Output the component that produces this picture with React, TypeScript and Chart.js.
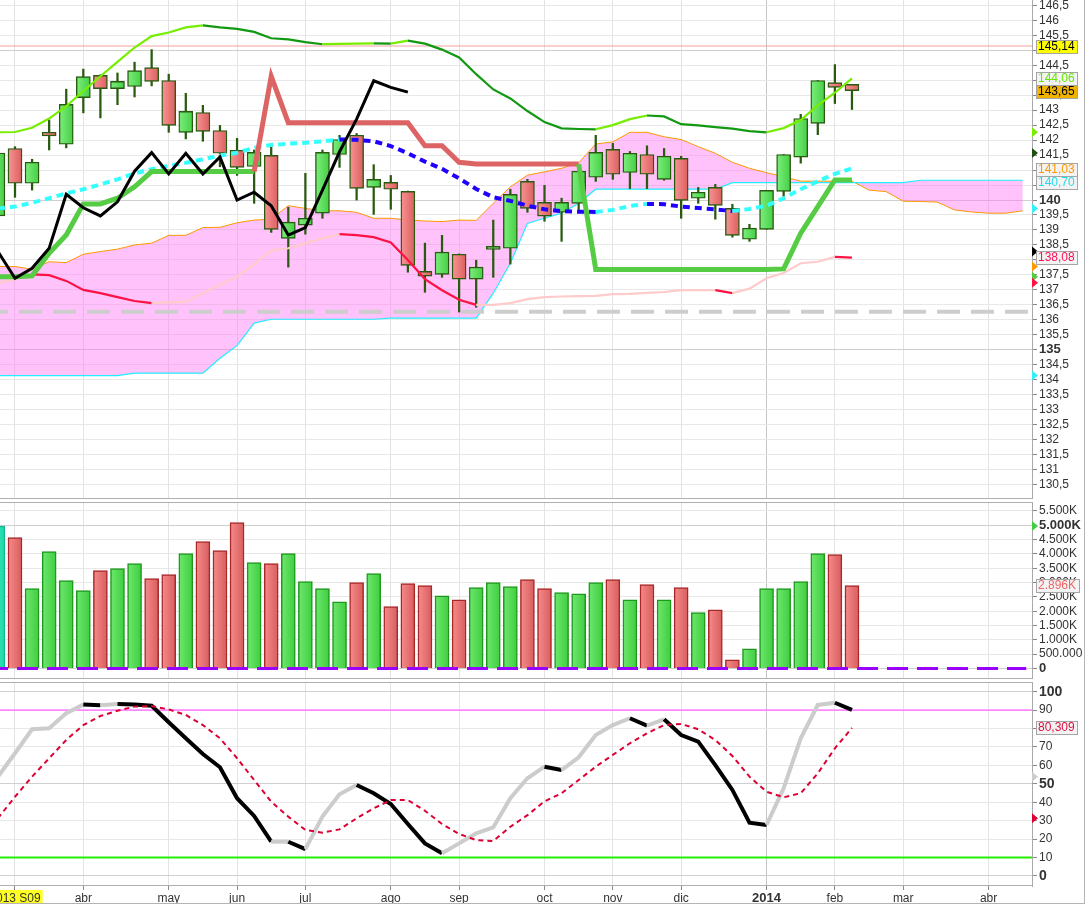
import React, { useEffect, useRef } from "react";
import { Chart, registerables } from "chart.js";

Chart.register(...registerables);

// ---------------- data (weekly bars, index 0 = partially hidden first week) ----------------
const opens = [
  139.47, 141.72, 140.56, 142.26, 141.86, 143.42, 144.16, 143.72, 143.79, 144.42,
  143.99, 142.26, 142.92, 142.32, 141.66, 141.12, 141.49, 138.72, 139.16, 139.56,
  141.52, 142.16, 140.42, 140.59, 140.29, 137.62, 137.52, 138.19, 137.36, 138.35,
  138.39, 140.62, 139.92, 139.59, 139.89, 140.76, 141.69, 140.92, 141.52, 140.69,
  141.39, 140.06, 140.42, 139.72, 138.69, 139.02, 140.29, 141.43, 142.56, 143.92, 143.86,
];
const highs = [
  141.7, 141.78, 141.36, 142.67, 143.7, 144.37, 144.18, 144.24, 144.6, 145.02,
  144.2, 143.56, 143.16, 142.49, 142.06, 141.67, 141.81, 139.76, 140.89, 141.67,
  142.16, 142.22, 141.18, 140.82, 140.3, 138.56, 138.82, 138.2, 137.99, 139.33,
  140.36, 140.69, 140.49, 140.06, 141.16, 142.16, 141.89, 141.62, 141.81, 141.72,
  141.46, 140.42, 140.52, 139.86, 139.19, 140.32, 141.52, 142.86, 143.99, 144.52, 143.86,
];
const lows = [
  139.35, 140.09, 140.33, 141.67, 141.74, 142.91, 142.74, 143.18, 143.44, 143.81,
  142.26, 142.04, 141.96, 141.11, 140.82, 139.89, 138.92, 137.76, 138.86, 139.39,
  141.09, 140.0, 139.52, 139.69, 137.59, 136.92, 137.42, 136.26, 136.42, 137.42,
  137.86, 139.59, 139.29, 138.62, 139.62, 140.62, 140.69, 140.38, 140.38, 140.66,
  139.39, 139.89, 139.36, 138.76, 138.62, 139.02, 140.12, 141.23, 142.18, 143.22, 143.02,
];
const closes = [
  141.57, 140.56, 141.26, 142.14, 143.19, 144.12, 143.72, 143.96, 144.32, 143.96,
  142.49, 142.96, 142.29, 141.56, 141.09, 141.59, 139.02, 139.26, 139.39, 141.59,
  142.02, 140.39, 140.69, 140.36, 137.82, 137.46, 138.26, 137.36, 137.76, 138.38,
  140.19, 139.72, 139.46, 139.92, 140.96, 141.59, 140.86, 141.56, 140.86, 141.46,
  139.99, 140.26, 139.82, 138.82, 139.06, 140.32, 141.52, 142.72, 143.99, 143.76, 143.65,
];
// volume in thousands
const volumes = [
  4970, 4570, 2790, 4080, 3070, 2720, 3420, 3490, 3660, 3140,
  3280, 4010, 4430, 4115, 5095, 3695, 3660, 4010, 3030, 2790,
  2330, 3000, 3310, 2160, 2960, 2890, 2540, 2400, 2820, 3000,
  2860, 3100, 2790, 2650, 2610, 3000, 3100, 2400, 2930, 2400,
  2820, 1950, 2050, 300, 690, 2790, 2790, 3030, 4010, 3975, 2896,
];
const upperBand = [
  142.26, 142.27, 142.41, 142.72, 143.13, 143.64, 144.13, 144.61, 145.09, 145.47,
  145.59, 145.76, 145.83, 145.76, 145.71, 145.61, 145.4, 145.36, 145.27, 145.2,
  145.21, 145.22, 145.23, 145.22, 145.32, 145.22, 145.02, 144.76, 144.2, 143.69,
  143.39, 142.97, 142.6, 142.39, 142.37, 142.36, 142.5, 142.7, 142.82, 142.79,
  142.53, 142.49, 142.43, 142.38, 142.3, 142.26, 142.4, 142.67, 143.16, 143.58, 144.06,
];
const middleBand = [
  139.72, 139.78, 139.91, 140.06, 140.22, 140.36, 140.52, 140.69, 140.89, 141.03,
  141.14, 141.24, 141.36, 141.48, 141.58, 141.74, 141.84, 141.88, 141.91, 141.96,
  142.02, 142.01, 141.96, 141.8, 141.56, 141.28, 141.04, 140.72, 140.37, 140.09,
  139.97, 139.81, 139.69, 139.63, 139.61, 139.6, 139.67, 139.8, 139.87, 139.86,
  139.78, 139.73, 139.69, 139.63, 139.7, 139.81, 140.06, 140.36, 140.63, 140.87, 141.06,
];
const lowerBand = [
  137.24, 137.36, 137.52, 137.49, 137.3, 137.0, 136.89, 136.76, 136.63, 136.56,
  136.58, 136.6, 136.89, 137.17, 137.44, 137.86, 138.31, 138.39, 138.56, 138.72,
  138.86, 138.83, 138.76, 138.58, 138.0, 137.36, 136.99, 136.67, 136.5, 136.5,
  136.56, 136.69, 136.76, 136.78, 136.79, 136.8, 136.86, 136.87, 136.9, 136.93,
  136.99, 136.99, 136.99, 136.89, 137.04, 137.39, 137.56, 137.89, 137.94, 138.1, 138.08,
];
const kijun = [
  137.44, 137.44, 137.47, 138.22, 138.83, 139.87, 139.87, 140.06, 140.44, 140.95,
  140.95, 140.95, 140.95, 140.95, 140.95, 140.95, 144.13, 142.58, 142.58, 142.58,
  142.58, 142.58, 142.58, 142.58, 142.58, 141.81, 141.81, 141.26, 141.2, 141.2,
  141.2, 141.2, 141.2, 141.2, 141.2, 137.68, 137.68, 137.68, 137.68, 137.68,
  137.68, 137.68, 137.68, 137.68, 137.68, 137.68, 137.7, 138.89, 139.78, 140.67, 140.67,
];
const kijunBearFrom = 15;
const kijunBearTo = 34;
const chikou = [
  138.28, 137.39, 137.72, 138.39, 140.19, 139.74, 139.47, 139.94, 140.96, 141.58,
  140.87, 141.56, 140.87, 141.44, 140.0, 140.26, 139.81, 138.83, 139.08, 140.33,
  141.61, 142.7, 143.98, 143.76, 143.6,
];
const senkouA = [
  137.78, 137.78, 137.69, 137.94, 137.91, 138.19, 138.28, 138.36, 138.5, 138.56,
  138.82, 138.82, 139.08, 139.09, 139.24, 139.33, 139.36, 139.81, 139.72, 139.64,
  139.64, 139.59, 139.39, 139.39, 139.33, 139.3, 139.28, 139.33, 139.32, 139.89,
  140.44, 140.83, 140.94, 141.06, 141.24, 141.87, 141.94, 142.26, 142.26, 142.11,
  142.02, 141.78, 141.56, 141.26, 141.06, 140.91, 140.78, 140.63, 140.63, 140.63,
  140.63, 140.33, 140.28, 139.96, 139.95, 139.93, 139.67, 139.6, 139.56, 139.56, 139.64,
];
const senkouB = [
  134.14, 134.14, 134.14, 134.14, 134.14, 134.14, 134.14, 134.14, 134.22, 134.22,
  134.22, 134.22, 134.22, 134.72, 135.14, 135.89, 136.02, 136.02, 136.02, 136.02,
  136.02, 136.02, 136.02, 136.06, 136.06, 136.06, 136.06, 136.06, 136.06, 136.89,
  137.89, 139.22, 139.39, 139.56, 139.89, 140.36, 140.36, 140.36, 140.36, 140.36,
  140.36, 140.36, 140.36, 140.58, 140.58, 140.58, 140.58, 140.58, 140.58, 140.58,
  140.58, 140.58, 140.58, 140.58, 140.66, 140.66, 140.66, 140.66, 140.66, 140.66, 140.66,
];
const stochK = [
  53.9, 66.6, 79.6, 80.1, 88.3, 93.0, 92.7, 93.3, 93.1, 92.4,
  83.4, 74.7, 66.2, 59.0, 42.2, 32.6, 18.6, 18.6, 14.6, 32.2,
  44.3, 49.4, 44.9, 39.1, 28.2, 17.7, 12.3, 17.7, 23.2, 26.4,
  42.2, 53.0, 59.3, 57.5, 64.4, 76.5, 81.9, 85.6, 81.6, 85.0,
  76.5, 72.9, 60.2, 46.7, 28.9, 27.7, 47.6, 74.7, 92.8, 94.0, 90.1,
];
const stochD = [
  31.3, 43.0, 53.9, 63.9, 73.8, 81.9, 86.8, 89.7, 91.9, 92.2,
  90.4, 87.4, 81.9, 74.7, 63.9, 52.1, 40.3, 32.2, 25.0, 23.5,
  25.3, 31.3, 36.7, 41.2, 41.2, 35.4, 28.2, 22.8, 19.5, 19.0,
  26.7, 33.0, 40.5, 44.9, 52.1, 59.3, 65.7, 72.0, 77.4, 81.9,
  82.5, 79.6, 73.8, 65.1, 53.9, 45.7, 42.7, 44.9, 55.7, 69.3, 80.309,
];
const resistanceLevel = 145.14;
const supportLevel = 136.27;
const stochUpper = 90;
const stochLower = 10;

const priceTicks = [
  130.5, 131, 131.5, 132, 132.5, 133, 133.5, 134, 134.5, 135, 135.5, 136, 136.5,
  137, 137.5, 138, 138.5, 139, 139.5, 140, 140.5, 141, 141.5, 142, 142.5, 143,
  143.5, 144, 144.5, 145, 145.5, 146, 146.5,
];
const volumeTicks = [0, 500, 1000, 1500, 2000, 2500, 3000, 3500, 4000, 4500, 5000, 5500];
const stochTicks = [0, 10, 20, 30, 40, 50, 60, 70, 80, 90, 100];
const monthTickIdx = [1, 5, 10, 14, 18, 23, 27, 32, 36, 40, 45, 49, 53, 58];
const monthTickLabels = ["2013 S09", "abr", "may", "jun", "jul", "ago", "sep", "oct", "nov", "dic", "2014", "feb", "mar", "abr"];
const yearTickIdx = 45;

const priceTagValues = [145.14, 144.06, 143.65, 141.03, 140.7, 138.08];
const volumeTagValues = [2896];
const stochTagValues = [80.309];

// ---------------- layout / style ----------------
const FONT = '"Liberation Sans", Arial, Helvetica, sans-serif';
const X_MIN = 0.122;
const X_MAX = 60.54;
const CANVAS_W = 1084;
const AXIS_W = 52;
const CLOUD = "rgba(255,110,245,0.42)";
const CANDLE_EDGE = "#285a10";

const priceTagStyles = [
  { fg: "#000000", bg: "#ffff00" },
  { fg: "#66e600", bg: "#f3f3f3" },
  { fg: "#000000", bg: "#f0b400" },
  { fg: "#ff9900", bg: "#f3f3f3" },
  { fg: "#22ddee", bg: "#f3f3f3" },
  { fg: "#ff1155", bg: "#f3f3f3" },
];

const comma = (v: number, d: number) => v.toFixed(d).replace(".", ",");
const fmtPrice = (v: number) => (Number.isInteger(v) ? String(v) : comma(v, 1));
const fmtVol = (v: number) => {
  if (v === 0) return "0";
  if (v < 1000) return v + ".000";
  const t = Math.floor(v / 1000);
  const r = Math.round(v % 1000);
  return t + "." + String(r).padStart(3, "0") + "K";
};
const near = (a: number, b: number) => Math.abs(a - b) < 1e-6;

const xy = (arr: number[]) => arr.map((y, x) => ({ x, y }));
const rising = (c: any) => c.p1.parsed.y >= c.p0.parsed.y;

function gradient(c: any, left: string, right: string, half: number) {
  const chart = c.chart;
  const xs = chart.scales && chart.scales.x;
  if (!xs || c.type !== "data" || !c.raw) return right;
  const px = xs.getPixelForValue(c.raw.x);
  if (!isFinite(px)) return right;
  const g = chart.ctx.createLinearGradient(px - half, 0, px + half, 0);
  g.addColorStop(0, left);
  g.addColorStop(1, right);
  return g;
}

function xAxis(showLabels: boolean) {
  return {
    type: "linear",
    min: X_MIN,
    max: X_MAX,
    offset: false,
    afterBuildTicks: (s: any) => {
      s.ticks = monthTickIdx.map((value) => ({ value }));
    },
    afterFit: (s: any) => {
      s.height = showLabels ? 17 : 0;
      s.paddingLeft = 0;
      s.paddingRight = 0;
    },
    grid: {
      offset: false,
      color: (c: any) => (c.tick && c.tick.value === yearTickIdx ? "#c4c4c4" : "#e3e3e3"),
      drawTicks: showLabels,
      tickLength: 4,
      tickColor: "#8a8a8a",
    },
    border: { display: false },
    ticks: {
      display: showLabels,
      autoSkip: false,
      maxRotation: 0,
      minRotation: 0,
      padding: 1,
      color: "#333",
      font: (c: any) =>
        c.tick && c.tick.value === yearTickIdx ? { size: 13, weight: "bold" } : { size: 12 },
      callback: (_v: any, i: number) => monthTickLabels[i],
      showLabelBackdrop: (c: any) => c.index === 0,
      backdropColor: "#ffff22",
      backdropPadding: { left: 2, right: 2, top: 1, bottom: 0 },
    },
  };
}

function yAxis(
  min: number,
  max: number,
  ticks: number[],
  fmt: (v: number) => string,
  major: (v: number) => boolean,
  boldSize: number
) {
  return {
    type: "linear",
    position: "right",
    min,
    max,
    bounds: "data",
    afterBuildTicks: (s: any) => {
      s.ticks = ticks.map((value) => ({ value }));
    },
    afterFit: (s: any) => {
      s.width = AXIS_W;
      s.paddingTop = 0;
      s.paddingBottom = 0;
    },
    grid: {
      color: (c: any) => (c.tick && major(c.tick.value) ? "#cfcfcf" : "#e8e8e8"),
      tickLength: 5,
      tickColor: "#888",
    },
    border: { display: true, color: "#a9a9a9" },
    ticks: {
      autoSkip: false,
      padding: 2,
      color: "#333",
      font: (c: any) =>
        c.tick && major(c.tick.value) ? { size: boldSize, weight: "bold" } : { size: 12 },
      callback: (v: any) => fmt(Number(v)),
    },
  };
}

type Tag = { value: number; text: string; fg: string; bg: string };
type Marker = { value: number; color: string };

function decor(id: string, tags: Tag[], markers: Marker[], top: boolean, bottom: boolean) {
  return {
    id,
    afterDraw(chart: any) {
      const { ctx, chartArea: a } = chart;
      const ys = chart.scales.y;
      ctx.save();
      ctx.strokeStyle = "#afafaf";
      ctx.lineWidth = 1;
      ctx.beginPath();
      if (top) {
        ctx.moveTo(0, a.top + 0.5);
        ctx.lineTo(a.right, a.top + 0.5);
      }
      if (bottom) {
        ctx.moveTo(0, a.bottom - 0.5);
        ctx.lineTo(a.right, a.bottom - 0.5);
      }
      ctx.stroke();
      for (const m of markers) {
        const y = ys.getPixelForValue(m.value);
        ctx.fillStyle = m.color;
        ctx.beginPath();
        ctx.moveTo(a.right, y - 5);
        ctx.lineTo(a.right + 6, y);
        ctx.lineTo(a.right, y + 5);
        ctx.closePath();
        ctx.fill();
      }
      ctx.font = "12px " + FONT;
      ctx.textBaseline = "middle";
      const placed = tags
        .map((t) => ({ ...t, y: ys.getPixelForValue(t.value) }))
        .sort((p, q) => p.y - q.y);
      let prev = -Infinity;
      for (const t of placed) {
        const y = Math.max(t.y, prev + 13);
        prev = y;
        const w = Math.ceil(ctx.measureText(t.text).width) + 4;
        const x = a.right + 4;
        const yt = Math.round(y - 6.5);
        ctx.fillStyle = t.bg;
        ctx.fillRect(x, yt, w, 13);
        ctx.strokeStyle = "#a5a5a5";
        ctx.strokeRect(x + 0.5, yt + 0.5, w, 13);
        ctx.fillStyle = t.fg;
        ctx.fillText(t.text, x + 2, yt + 7);
      }
      ctx.restore();
    },
  };
}

const baseOptions = {
  animation: false,
  responsive: false,
  events: [],
  layout: { padding: 0 },
  plugins: { legend: { display: false }, tooltip: { enabled: false } },
};

function priceConfig(): any {
  const tags: Tag[] = priceTagValues.map((v, i) => ({
    value: v,
    text: comma(v, 2),
    fg: priceTagStyles[i].fg,
    bg: priceTagStyles[i].bg,
  }));
  const markers: Marker[] = [
    { value: upperBand[0], color: "#77ee00" },
    { value: closes[0], color: "#1f4f10" },
    { value: middleBand[0], color: "#33eeff" },
    { value: chikou[0], color: "#000000" },
    { value: senkouA[0], color: "#ff9900" },
    { value: kijun[0], color: "#55cc44" },
    { value: lowerBand[0], color: "#ff1144" },
    { value: senkouB[0], color: "#33eeff" },
  ];
  return {
    type: "bar",
    data: {
      datasets: [
        { type: "line", data: xy(senkouA), borderColor: "#ff9900", borderWidth: 1, pointRadius: 0, fill: "+1", backgroundColor: CLOUD, order: 20 },
        { type: "line", data: xy(senkouB), borderColor: "#22eeff", borderWidth: 1.2, pointRadius: 0, fill: false, order: 19 },
        { type: "line", data: [{ x: X_MIN, y: supportLevel }, { x: X_MAX, y: supportLevel }], borderColor: "#cdcdcd", borderWidth: 4, borderDash: [23, 11], borderDashOffset: 15, pointRadius: 0, order: 18 },
        { type: "line", data: [{ x: X_MIN, y: resistanceLevel }, { x: X_MAX, y: resistanceLevel }], borderColor: "#f4a0a0", borderWidth: 1.2, pointRadius: 0, order: 17 },
        {
          type: "bar",
          data: lows.map((l, i) => ({ x: i, y: [l, highs[i]] })),
          backgroundColor: CANDLE_EDGE,
          borderWidth: 0,
          barThickness: 1.6,
          grouped: false,
          order: 12,
        },
        {
          type: "bar",
          data: opens.map((o, i) => ({ x: i, y: [o, closes[i]] })),
          backgroundColor: (c: any) => {
            const i = c.dataIndex;
            const up = closes[i] >= opens[i];
            return up ? gradient(c, "#7cee7c", "#45cf45", 7) : gradient(c, "#f79494", "#dc5f5f", 7);
          },
          borderColor: CANDLE_EDGE,
          borderWidth: 1.4,
          borderSkipped: false,
          barThickness: 14,
          minBarLength: 3,
          grouped: false,
          order: 11,
        },
        { type: "line", data: xy(lowerBand), borderColor: "#ff1144", borderWidth: 2.2, pointRadius: 0, segment: { borderColor: (c: any) => (rising(c) ? "#ffcaca" : "#ff1144") }, order: 6 },
        { type: "line", data: xy(upperBand), borderColor: "#77ee00", borderWidth: 2.2, pointRadius: 0, segment: { borderColor: (c: any) => (rising(c) ? "#77ee00" : "#129912") }, order: 5 },
        { type: "line", data: xy(middleBand), borderColor: "#33ffff", borderWidth: 4, borderDash: [7, 5], pointRadius: 0, segment: { borderColor: (c: any) => (rising(c) ? "#33ffff" : "#2200ff") }, order: 4 },
        {
          type: "line",
          data: xy(kijun),
          borderColor: "#55cc44",
          borderWidth: 5,
          pointRadius: 0,
          segment: {
            borderColor: (c: any) =>
              c.p0DataIndex >= kijunBearFrom && c.p1DataIndex <= kijunBearTo ? "#dd6464" : "#55cc44",
          },
          order: 3,
        },
        { type: "line", data: xy(chikou), borderColor: "#000000", borderWidth: 3, pointRadius: 0, order: 2 },
      ],
    },
    options: {
      ...baseOptions,
      scales: {
        x: xAxis(false),
        y: yAxis(130.02, 146.676, priceTicks, fmtPrice, (v) => near(v % 5, 0), 13),
      },
    },
    plugins: [decor("priceDecor", tags, markers, false, true)],
  };
}

function volumeConfig(): any {
  const tags: Tag[] = volumeTagValues.map((v) => ({ value: v, text: fmtVol(v), fg: "#ee6666", bg: "#f3f3f3" }));
  const markers: Marker[] = [{ value: volumes[0], color: "#44cc44" }];
  const dir = (i: number) => (i === 0 ? 0 : closes[i] >= closes[i - 1] ? 1 : -1);
  return {
    type: "bar",
    data: {
      datasets: [
        {
          type: "bar",
          data: volumes.map((v, i) => ({ x: i, y: v })),
          backgroundColor: (c: any) => {
            const d = dir(c.dataIndex);
            if (d === 0) return gradient(c, "#3ff0c0", "#1fd6a6", 7);
            return d > 0 ? gradient(c, "#6ee86e", "#3fcd3f", 7) : gradient(c, "#f68b8b", "#d85d5d", 7);
          },
          borderColor: (c: any) => {
            const d = dir(c.dataIndex);
            return d === 0 ? "#12b890" : d > 0 ? "#1e981e" : "#a82828";
          },
          borderWidth: 1.5,
          borderSkipped: "start",
          barThickness: 14,
          grouped: false,
          order: 5,
        },
        {
          type: "line",
          data: [{ x: X_MIN, y: 0 }, { x: 60.2, y: 0 }],
          borderColor: "#9900ff",
          borderWidth: 3,
          borderDash: [21, 9],
          borderDashOffset: 13,
          pointRadius: 0,
          order: 1,
        },
      ],
    },
    options: {
      ...baseOptions,
      scales: {
        x: xAxis(false),
        y: yAxis(-366, 5810, volumeTicks, fmtVol, (v) => v === 0 || v === 5000, 13),
      },
    },
    plugins: [decor("volDecor", tags, markers, true, true)],
  };
}

function stochConfig(): any {
  const tags: Tag[] = stochTagValues.map((v) => ({ value: v, text: comma(v, 3), fg: "#dd1144", bg: "#f3f3f3" }));
  const markers: Marker[] = [
    { value: stochK[0], color: "#cccccc" },
    { value: stochD[0], color: "#dd0033" },
  ];
  return {
    type: "line",
    data: {
      datasets: [
        { data: [{ x: X_MIN, y: stochUpper }, { x: X_MAX, y: stochUpper }], borderColor: "#ff88ff", borderWidth: 1.6, pointRadius: 0, order: 6 },
        { data: [{ x: X_MIN, y: stochLower }, { x: X_MAX, y: stochLower }], borderColor: "#22ee00", borderWidth: 2, pointRadius: 0, order: 6 },
        {
          data: xy(stochK),
          borderColor: "#cccccc",
          borderWidth: 4,
          pointRadius: 0,
          segment: { borderColor: (c: any) => (c.p1.parsed.y < c.p0.parsed.y ? "#000000" : "#cccccc") },
          order: 3,
        },
        { data: xy(stochD), borderColor: "#dd0033", borderWidth: 2, borderDash: [5, 4], pointRadius: 0, order: 2 },
      ],
    },
    options: {
      ...baseOptions,
      scales: {
        x: xAxis(true),
        y: yAxis(-5.43, 105.26, stochTicks, (v) => String(v), (v) => v === 0 || v === 50 || v === 100, 14),
      },
    },
    plugins: [decor("stochDecor", tags, markers, true, true)],
  };
}

export default function App() {
  const priceRef = useRef<HTMLCanvasElement | null>(null);
  const volRef = useRef<HTMLCanvasElement | null>(null);
  const stochRef = useRef<HTMLCanvasElement | null>(null);

  useEffect(() => {
    Chart.defaults.font.family = FONT;
    Chart.defaults.font.size = 12;
    Chart.defaults.color = "#333";
    const charts: any[] = [];
    if (priceRef.current) charts.push(new Chart(priceRef.current, priceConfig()));
    if (volRef.current) charts.push(new Chart(volRef.current, volumeConfig()));
    if (stochRef.current) charts.push(new Chart(stochRef.current, stochConfig()));
    return () => charts.forEach((c) => c.destroy());
  }, []);

  return (
    <div
      style={{
        position: "absolute",
        left: 0,
        top: 0,
        width: CANVAS_W,
        height: 903,
        background: "#ffffff",
        borderRight: "1px solid #b4b4b4",
        borderBottom: "1px solid #b4b4b4",
        overflow: "hidden",
      }}
    >
      <canvas ref={priceRef} width={CANVAS_W} height={499} style={{ position: "absolute", left: 0, top: 0, width: CANVAS_W, height: 499 }} />
      <canvas ref={volRef} width={CANVAS_W} height={177} style={{ position: "absolute", left: 0, top: 502, width: CANVAS_W, height: 177 }} />
      <canvas ref={stochRef} width={CANVAS_W} height={221} style={{ position: "absolute", left: 0, top: 682, width: CANVAS_W, height: 221 }} />
    </div>
  );
}
